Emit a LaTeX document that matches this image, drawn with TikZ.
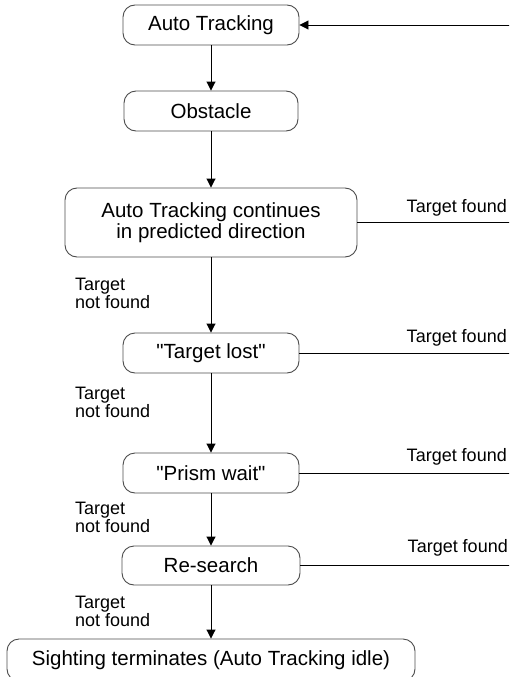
\documentclass[tikz,border=0pt]{standalone}
\usepackage{fontspec}
\setmainfont{Liberation Sans}[Ligatures=TeXOff]
\usetikzlibrary{arrows.meta,calc}
\begin{document}
\begin{tikzpicture}[x=1pt,y=-1pt,
  box/.style={draw=black!70, line width=0.9pt, rounded corners=12pt, inner sep=0pt, align=center,
    font=\fontsize{20.5}{21.5}\selectfont},
  lbl/.style={inner sep=0pt, align=left, anchor=north west, font=\fontsize{18}{17.5}\selectfont},
  fnd/.style={inner sep=0pt, anchor=base east, font=\fontsize{18}{18}\selectfont},
  conn/.style={line width=0.9pt, -{Triangle[length=9pt,width=9pt]}},
  plain/.style={line width=0.9pt}
]
\useasboundingbox (0,0) rectangle (509,677);
\clip (0,0) rectangle (509,677);
\coordinate (R) at (511,0);

\node[box, minimum width=176pt, minimum height=40pt] (at) at (211,25) {Auto Tracking};
\node[box, minimum width=174pt, minimum height=40pt] (obs) at (211,111) {Obstacle};
\node[box, minimum width=292pt, minimum height=69pt] (cont) at (211,222.5) {Auto Tracking continues\\in predicted direction};
\node[box, minimum width=176pt, minimum height=40pt] (lost) at (211,353) {"Target lost"};
\node[box, minimum width=176pt, minimum height=40pt] (prism) at (211,473) {"Prism wait"};
\node[box, minimum width=178pt, minimum height=39pt] (res) at (211,565.5) {Re-search};
\node[box, minimum width=408pt, minimum height=42pt] (sight) at (211,660) {Sighting terminates (Auto Tracking idle)};

\draw[conn] (at) -- (obs);
\draw[conn] (obs) -- (cont);
\draw[conn] (cont) -- (lost);
\draw[conn] (lost) -- (prism);
\draw[conn] (prism) -- (res);
\draw[conn] (res) -- (sight);

\draw[conn] (at.east -| R) -- (at.east);
\draw[plain] (cont.east) -- (cont.east -| R);
\draw[plain] (lost.east) -- (lost.east -| R);
\draw[plain] (prism.east) -- (prism.east -| R);
\draw[plain] (res.east) -- (res.east -| R);

\node[fnd] (f1) at ($(cont.east -| R)+(-4,-10)$) {Target found};
\node[fnd] (f2) at ($(lost.east -| R)+(-4,-11)$) {Target found};
\node[fnd] (f3) at ($(prism.east -| R)+(-4,-12)$) {Target found};
\node[fnd] (f4) at ($(res.east -| R)+(-3,-13)$) {Target found};

\node[lbl] (n1) at (75,278) {Target\\not found};
\node[lbl] (n2) at (75,387) {Target\\not found};
\node[lbl] (n3) at (75,502) {Target\\not found};
\node[lbl] (n4) at (75,596) {Target\\not found};
\end{tikzpicture}
\end{document}
